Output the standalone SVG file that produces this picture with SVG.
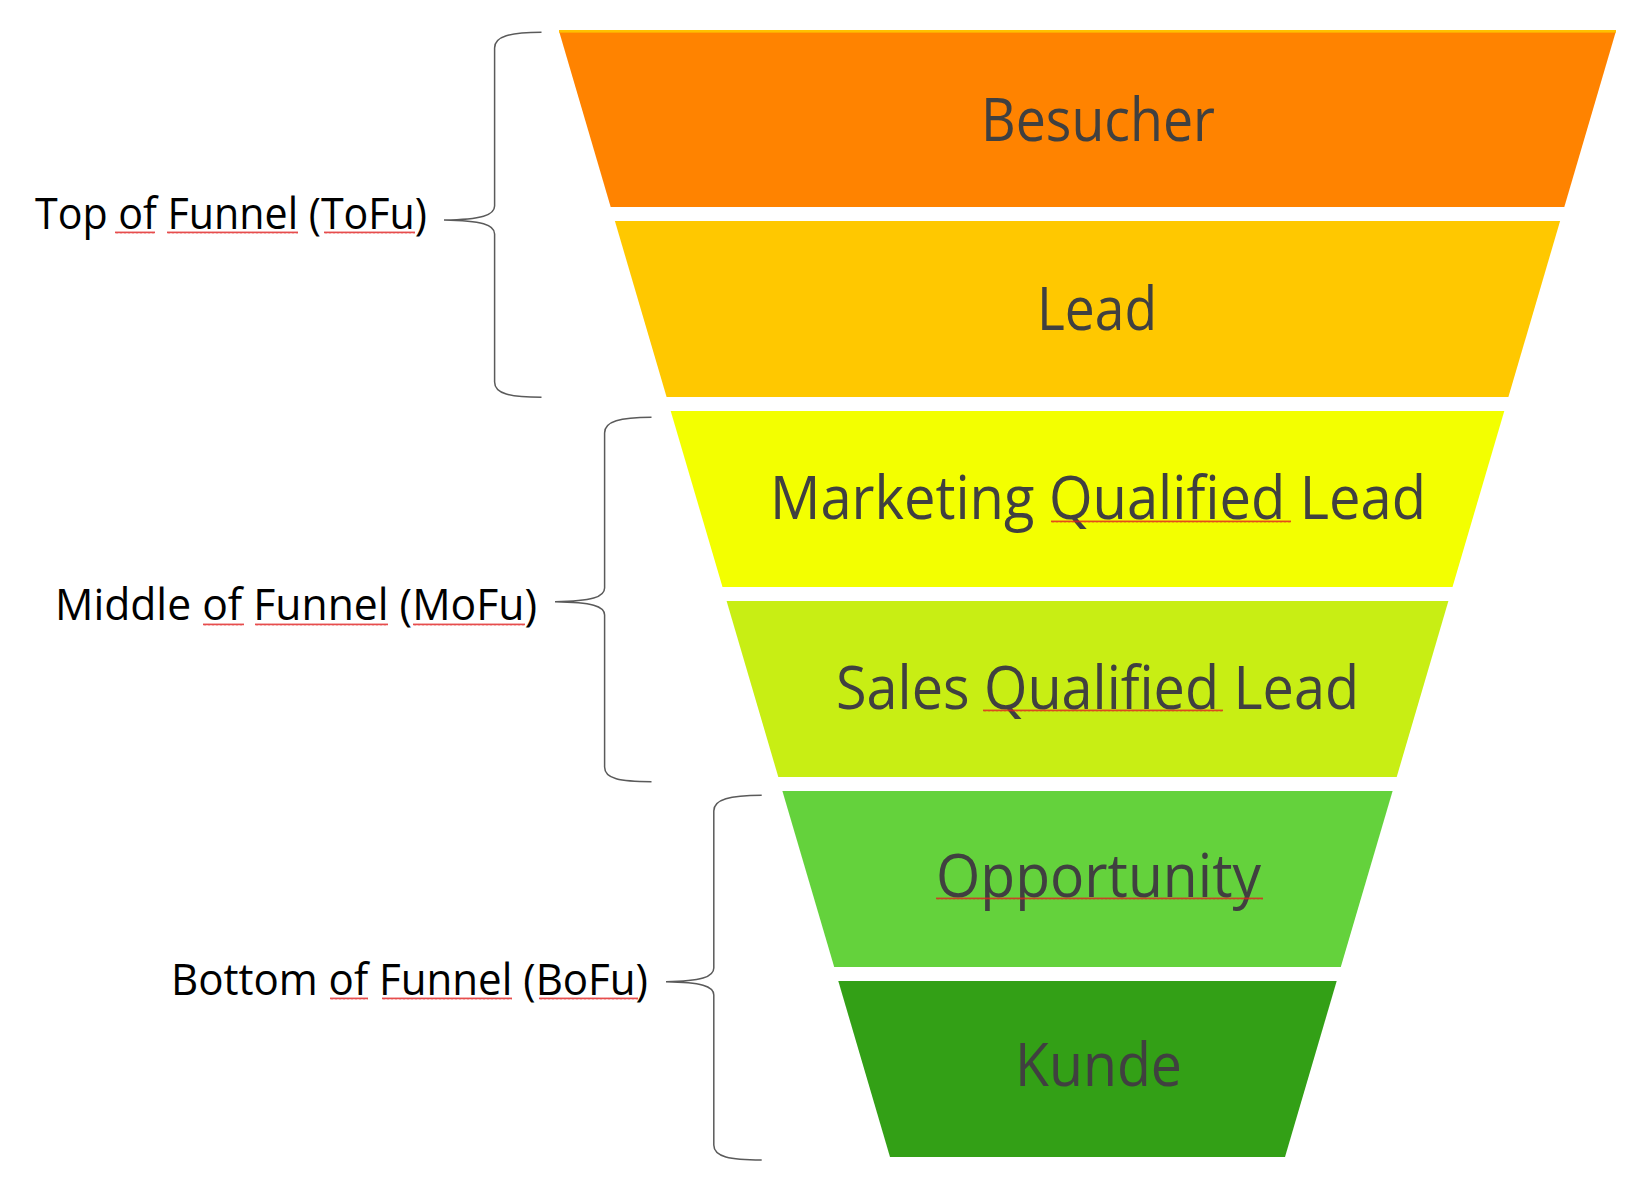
<svg xmlns="http://www.w3.org/2000/svg" width="1638" height="1193" viewBox="0 0 1638 1193">
<style>
.band-label{font-family:"Open Sans","Noto Sans","DejaVu Sans",sans-serif;font-size:60px;fill:#404040}
.side-label{font-family:"Open Sans","Noto Sans","DejaVu Sans",sans-serif;font-size:43px;fill:#000000}
.brace{fill:none;stroke:#5a5a5a;stroke-width:1.5}
.sq{fill:url(#squiggle)}
</style>
<defs>
<pattern id="squiggle" patternUnits="userSpaceOnUse" x="0" y="0" width="4" height="3">
<path d="M0,2.5 L1,0.5 L2,2.5 L3,0.5 L4,2.5" fill="none" stroke="#e02020" stroke-width="0.8"/>
</pattern>
</defs>
<rect x="0" y="0" width="1638" height="1193" fill="#ffffff"/>

<g id="node-besucher">
<polygon points="559,31 1616,31 1564.3,207 610.7,207" fill="#FF8300"/>
<rect x="559" y="30" width="1057" height="2.6" fill="#FFC000"/>
<text class="band-label" x="981" y="141" textLength="234" lengthAdjust="spacingAndGlyphs">Besucher</text>
</g>
<g id="node-lead">
<polygon points="614.9,221 1560.1,221 1508.4,397 666.6,397" fill="#FFC800"/>
<text class="band-label" x="1037" y="330" textLength="120" lengthAdjust="spacingAndGlyphs">Lead</text>
</g>
<g id="node-mql">
<polygon points="670.7,411 1504.3,411 1452.5,587 722.5,587" fill="#F3FF00"/>
<text class="band-label" x="770" y="519" textLength="656" lengthAdjust="spacingAndGlyphs">Marketing Qualified Lead</text>
<g transform="translate(1051,520)"><rect class="sq" x="0" y="0" width="240" height="3"/></g>
</g>
<g id="node-sql">
<polygon points="726.6,601 1448.4,601 1396.7,777 778.3,777" fill="#C8EE14"/>
<text class="band-label" x="836" y="709" textLength="523" lengthAdjust="spacingAndGlyphs">Sales Qualified Lead</text>
<g transform="translate(983,709)"><rect class="sq" x="0" y="0" width="240" height="3"/></g>
</g>
<g id="node-opportunity">
<polygon points="782.4,791 1392.6,791 1340.8,967 834.2,967" fill="#64D23C"/>
<text class="band-label" x="936" y="897" textLength="325" lengthAdjust="spacingAndGlyphs">Opportunity</text>
<g transform="translate(936,897)"><rect class="sq" x="0" y="0" width="327" height="3"/></g>
</g>
<g id="node-kunde">
<polygon points="838.3,981 1336.7,981 1285,1157 890,1157" fill="#33A016"/>
<text class="band-label" x="1015" y="1086" textLength="167" lengthAdjust="spacingAndGlyphs">Kunde</text>
</g>

<g id="node-tofu">
<text class="side-label" x="35" y="229" textLength="392" lengthAdjust="spacingAndGlyphs">Top of Funnel (ToFu)</text>
<g transform="translate(115,231)"><rect class="sq" x="0" y="0" width="40" height="3"/></g>
<g transform="translate(167,231)"><rect class="sq" x="0" y="0" width="131" height="3"/></g>
<g transform="translate(324,231)"><rect class="sq" x="0" y="0" width="91" height="3"/></g>
</g>
<g id="node-mofu">
<text class="side-label" x="55" y="620" textLength="482" lengthAdjust="spacingAndGlyphs">Middle of Funnel (MoFu)</text>
<g transform="translate(203,623)"><rect class="sq" x="0" y="0" width="41" height="3"/></g>
<g transform="translate(255,623)"><rect class="sq" x="0" y="0" width="133" height="3"/></g>
<g transform="translate(413,623)"><rect class="sq" x="0" y="0" width="112" height="3"/></g>
</g>
<g id="node-bofu">
<text class="side-label" x="171" y="995" textLength="477" lengthAdjust="spacingAndGlyphs">Bottom of Funnel (BoFu)</text>
<g transform="translate(330,997)"><rect class="sq" x="0" y="0" width="38" height="3"/></g>
<g transform="translate(382,997)"><rect class="sq" x="0" y="0" width="130" height="3"/></g>
<g transform="translate(539,997)"><rect class="sq" x="0" y="0" width="99" height="3"/></g>
</g>

<g id="connectors">
<path class="brace" d="M541.5,32.3 C510,32.5 494.6,36 494.6,48 L494.6,206 C494.6,215 482,219.5 444,220 C482,220.5 494.6,225 494.6,234 L494.6,382 C494.6,394 510,397 541.5,397.3"/>
<path class="brace" d="M651.5,417.3 C620,417.5 604.6,421 604.6,433 L604.6,588 C604.6,597 592,601.2 555,601.7 C592,602.2 604.6,606 604.6,615 L604.6,767 C604.6,779 620,781.5 651.5,781.7"/>
<path class="brace" d="M761.7,795.3 C730,795.5 713.8,799 713.8,811 L713.8,968 C713.8,977 701,981.2 666,981.7 C701,982.2 713.8,986 713.8,995 L713.8,1145 C713.8,1157 730,1159.8 761.7,1160"/>
</g>
</svg>
